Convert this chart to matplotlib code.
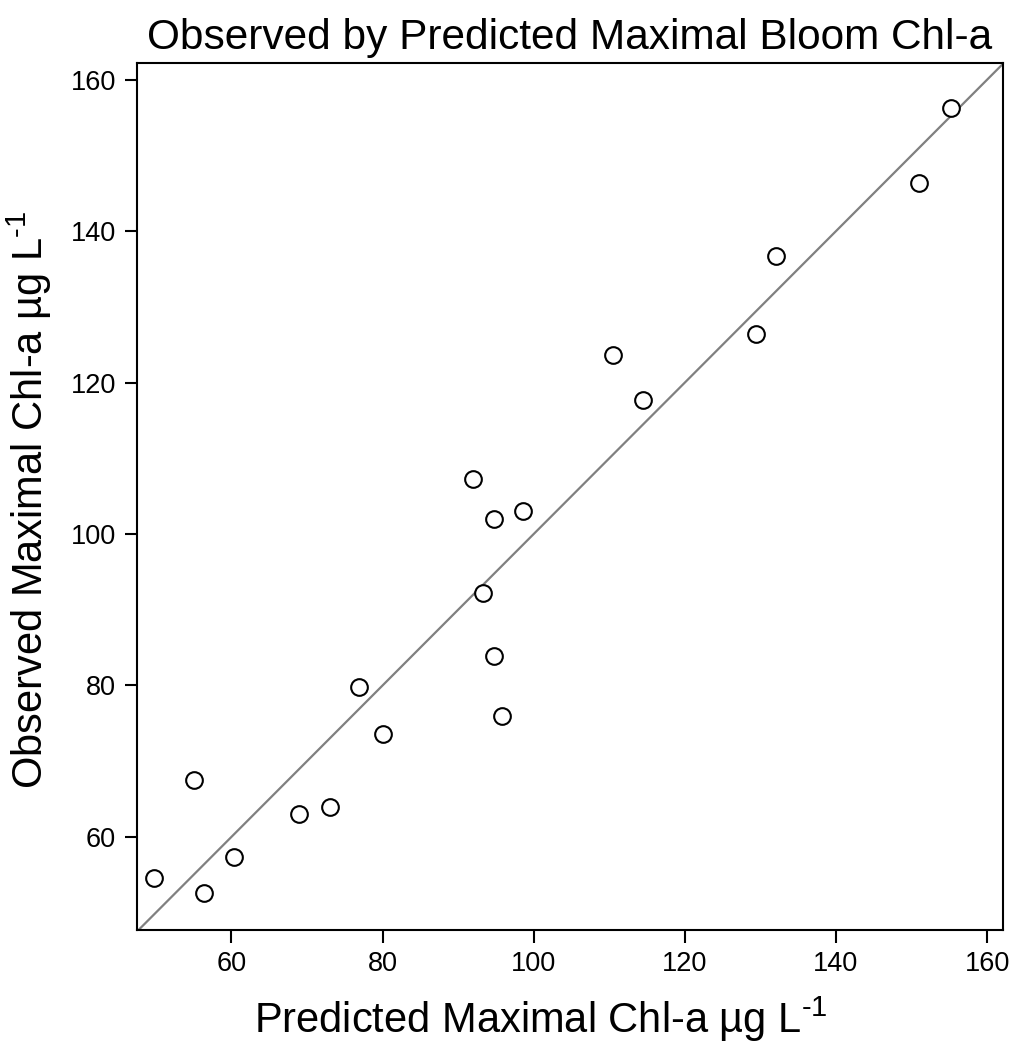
import numpy as np
import matplotlib.pyplot as plt

plt.rcParams['font.family'] = ['Liberation Sans', 'DejaVu Sans']
plt.rcParams['mathtext.fontset'] = 'custom'
plt.rcParams['mathtext.rm'] = 'Liberation Sans'
plt.rcParams['mathtext.it'] = 'Liberation Sans'

# predicted vs observed maximal bloom chl-a (ug/L)
predicted = [49.8, 56.4, 55.1, 60.3, 68.9, 73.1, 76.9, 80.0, 91.9, 93.3,
             94.7, 94.7, 95.8, 98.6, 110.5, 114.5, 129.4, 132.0, 151.0, 155.2]
observed = [54.6, 52.6, 67.5, 57.4, 63.0, 64.0, 79.8, 73.6, 107.2, 92.2,
            102.0, 83.9, 75.9, 103.1, 123.7, 117.7, 126.4, 136.7, 146.3, 156.2]
ticks = [60, 80, 100, 120, 140, 160]
lim = (47.5, 162.1)

fig = plt.figure(figsize=(10.13, 10.48), dpi=100)
ax = fig.add_axes([137/1013, 1 - 930/1048, 866/1013, 867/1048])

ax.plot(lim, lim, color='#808080', lw=1.6, zorder=1)
ax.plot(predicted, observed, 'o', ms=12, mfc='white', mec='black', mew=1.5, zorder=2)

ax.set_xlim(lim)
ax.set_ylim(47.7, 162.2)
ax.set_xticks(ticks)
ax.set_yticks(ticks)
ax.tick_params(direction='out', length=9, width=1.5, labelsize=19.5, pad=6)
for s in ax.spines.values():
    s.set_linewidth(1.5)

ax.set_title('Observed by Predicted Maximal Bloom Chl-a', fontsize=30.5, pad=10)
ax.set_xlabel('Predicted Maximal Chl-a µg L$^{\\text{-1}}$', fontsize=30)
ax.set_ylabel('Observed Maximal Chl-a µg L$^{\\text{-1}}$', fontsize=30)
ax.xaxis.set_label_coords(0.4665, -0.075)
ax.yaxis.set_label_coords(-0.096, 0.496)

fig.savefig('out.png', dpi=100)
